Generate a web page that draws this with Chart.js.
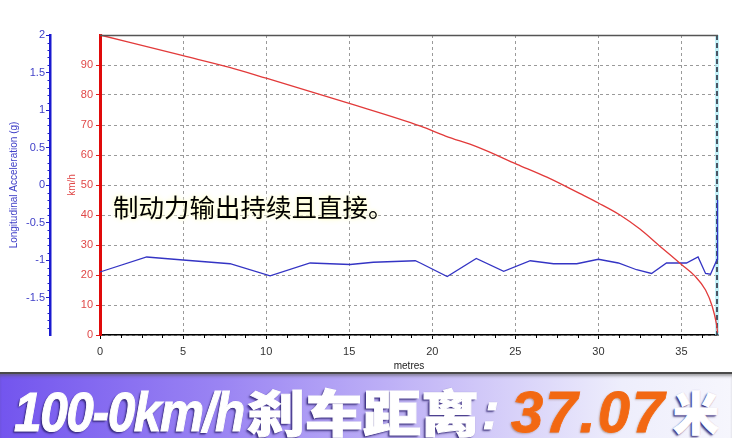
<!DOCTYPE html>
<html><head><meta charset="utf-8">
<script src="https://cdn.jsdelivr.net/npm/chart.js@4.4.1/dist/chart.umd.min.js"></script>
<style>
html,body{margin:0;padding:0;background:#fff;}
#wrap{position:relative;width:732px;height:438px;overflow:hidden;background:#fff;}
#chartBox{position:absolute;left:0;top:0;width:732px;height:376px;}
#note{position:absolute;left:113px;top:193px;font-family:"Noto Sans CJK SC";font-size:25.5px;line-height:1;color:#000;white-space:nowrap;
  text-shadow:0 0 3px #ffffc8,0 0 6px #ffffd0,0 0 10px #fffff0;}
#banner{position:absolute;left:0;top:372px;width:732px;height:66px;
  background:linear-gradient(to right,#7355ee 0%,#9a84f3 30%,#c8bdf7 60%,#eeeefc 85%,#f6f6fd 100%);
  border-top:2px solid #4a4a4a;box-shadow:inset 0 3px 3px -1px rgba(90,90,90,0.55);box-sizing:border-box;}
#banner span{position:absolute;white-space:nowrap;line-height:1;transform-origin:0 50%;}
.lat{font-family:"Liberation Sans",Arial,sans-serif;font-weight:bold;font-style:italic;}
.cjk{font-family:"Noto Sans CJK SC";font-weight:900;}
.w{color:#fff;-webkit-text-stroke:1px #fff;text-shadow:0 0 1px #3b2d85,-1px 1px 1px #3b2d85,-2px 2px 2px rgba(40,30,100,0.75);}
.o{color:#f26812;-webkit-text-stroke:0.8px #f26812;text-shadow:0 0 1px #fff,-1px 1px 2px rgba(120,60,20,0.5);}
</style>
</head><body>
<div id="wrap">
  <div id="chartBox"><canvas id="c" width="732" height="376"></canvas></div>
  <div id="note">制动力输出持续且直接。</div>
  <div id="banner">
    <span class="lat w" style="left:14px;top:11px;font-size:55px;letter-spacing:-1.5px;transform:scaleX(0.9)">100-0km/h</span>
    <span class="cjk w" style="left:247px;top:11px;font-size:50px;transform:scaleX(1.16)">刹车距离</span>
    <span class="lat w" style="left:482px;top:11px;font-size:52px">:</span>
    <span class="lat o" style="left:511px;top:9px;font-size:58px;letter-spacing:2px">37.07</span>
    <span class="cjk w" style="left:673px;top:13px;font-size:46px">米</span>
  </div>
</div>
<script>
// ---- data ----
const speedDistance = [0, 5, 7.8, 10, 15, 19.3, 20.8, 22.7, 25.1, 26.9, 28.9, 30, 31.3, 32.5, 33.7, 35.0, 35.8, 36.45, 36.85, 37.1, 37.18];
const speedKmh      = [100, 93.1, 89.2, 85.6, 77.2, 69.6, 66.3, 62.7, 56.9, 52.6, 47.1, 44.0, 40.0, 35.3, 29.6, 23.5, 19.7, 15.0, 9.6, 3.9, 0.8];
const accDistance = [0, 2.81, 5.0, 7.83, 10.24, 12.65, 15.06, 16.45, 18.98, 19.28, 20.9, 22.65, 24.3, 25.9, 27.3, 28.7, 30.0, 31.2, 32.3, 33.2, 34.1, 35.3, 36.0, 36.45, 36.75, 37.15, 37.17];
const accG        = [-1.16, -0.96, -1.0, -1.05, -1.21, -1.04, -1.06, -1.03, -1.01, -1.04, -1.22, -0.98, -1.15, -1.01, -1.05, -1.05, -0.99, -1.04, -1.13, -1.18, -1.04, -1.04, -0.96, -1.18, -1.19, -0.99, -0.2];
const xTicks     = [0, 5, 10, 15, 20, 25, 30, 35];
const speedTicks = [0, 10, 20, 30, 40, 50, 60, 70, 80, 90];
const accTicks   = [2, 1.5, 1, 0.5, 0, -0.5, -1, -1.5];
const xMax = 37.2;

const FONT = '"Liberation Sans", Arial, sans-serif';

const decorPlugin = {
  id: 'decor',
  beforeDatasetsDraw(chart) {
    const {ctx, chartArea: a} = chart;
    ctx.save();
    // right dashed marker line (under the data)
    ctx.strokeStyle = 'rgba(170,235,245,0.7)'; ctx.lineWidth = 4;
    ctx.beginPath(); ctx.moveTo(a.right - 1, a.top); ctx.lineTo(a.right - 1, a.bottom); ctx.stroke();
    ctx.strokeStyle = '#223'; ctx.lineWidth = 1.5; ctx.setLineDash([5, 3]);
    ctx.beginPath(); ctx.moveTo(a.right - 1, a.top); ctx.lineTo(a.right - 1, a.bottom); ctx.stroke();
    ctx.restore();
  },
  afterDraw(chart) {
    const {ctx, chartArea: a, scales} = chart;
    ctx.save();
    // top frame line
    ctx.strokeStyle = '#555'; ctx.lineWidth = 1.5; ctx.setLineDash([]);
    ctx.beginPath(); ctx.moveTo(a.left, a.top + 0.5); ctx.lineTo(a.right, a.top + 0.5); ctx.stroke();
    // minor ticks on x axis
    const sx = scales.x;
    ctx.strokeStyle = '#000'; ctx.lineWidth = 1;
    for (let v = 1.25; v < xMax; v += 1.25) {
      if (Math.abs(v / 5 - Math.round(v / 5)) < 1e-6) continue;
      const px = Math.round(sx.getPixelForValue(v)) + 0.5;
      ctx.beginPath(); ctx.moveTo(px, a.bottom); ctx.lineTo(px, a.bottom + 3); ctx.stroke();
    }
    // minor ticks on acceleration axis
    const sa = scales.yAcc;
    ctx.strokeStyle = '#2020c8';
    for (let i = -20; i <= 20; i++) {
      if (i % 5 === 0) continue;
      const py = Math.round(sa.getPixelForValue(i / 10)) + 0.5;
      ctx.beginPath(); ctx.moveTo(sa.right - 2.5, py); ctx.lineTo(sa.right, py); ctx.stroke();
    }
    ctx.restore();
  }
};

new Chart(document.getElementById('c'), {
  type: 'line',
  data: {
    datasets: [
      {
        label: 'km/h',
        data: speedDistance.map((x, i) => ({x, y: speedKmh[i]})),
        yAxisID: 'ySpeed',
        borderColor: '#e23a3a',
        borderWidth: 1.3,
        pointRadius: 0,
        cubicInterpolationMode: 'monotone',
        fill: false,
        clip: 4
      },
      {
        label: 'Longitudinal Acceleration (g)',
        data: accDistance.map((x, i) => ({x, y: accG[i]})),
        yAxisID: 'yAcc',
        borderColor: '#3434c4',
        borderWidth: 1.3,
        pointRadius: 0,
        tension: 0,
        fill: false,
        clip: 4
      }
    ]
  },
  options: {
    responsive: false,
    animation: false,
    devicePixelRatio: 1,
    layout: {padding: {top: 35, right: 14, left: 0, bottom: 0}},
    plugins: {legend: {display: false}, tooltip: {enabled: false}},
    scales: {
      x: {
        type: 'linear', min: 0, max: xMax,
        afterBuildTicks: s => { s.ticks = xTicks.map(v => ({value: v})); },
        afterFit: s => { s.height = 41; },
        ticks: {color: '#333', font: {family: FONT, size: 11}, padding: 6, callback: v => String(v)},
        grid: {color: '#9a9a9a', lineWidth: 1, tickLength: 4, tickColor: '#000', drawTicks: true},
        border: {color: '#000', width: 1.5, dash: [3, 3]},
        title: {display: true, text: 'metres', color: '#222', font: {family: FONT, size: 10}, padding: {top: 0, bottom: 4}}
      },
      ySpeed: {
        type: 'linear', position: 'left', weight: 0, min: 0, max: 100,
        afterBuildTicks: s => { s.ticks = speedTicks.map(v => ({value: v})); },
        afterFit: s => { s.width = 50; },
        ticks: {color: '#e04848', font: {family: FONT, size: 11}, padding: 3, callback: v => String(v)},
        grid: {color: '#9a9a9a', lineWidth: 1, tickLength: 4, tickColor: '#e02020'},
        border: {color: '#e00a0a', width: 3, dash: [3, 3]},
        title: {display: true, text: 'km/h', color: '#e04848', font: {family: FONT, size: 10}, padding: {top: 16, bottom: 0}}
      },
      yAcc: {
        type: 'linear', position: 'left', weight: 1, min: -2, max: 2,
        afterBuildTicks: s => { s.ticks = accTicks.map(v => ({value: v})); },
        afterFit: s => { s.width = 50; },
        ticks: {color: '#4040c8', font: {family: FONT, size: 11}, padding: 1, callback: v => String(v)},
        grid: {drawOnChartArea: false, tickLength: 4, tickColor: '#2020c8'},
        border: {color: '#1a1ad0', width: 2.5},
        title: {display: true, text: 'Longitudinal Acceleration (g)', color: '#4040c8', font: {family: FONT, size: 10}, padding: {top: 8, bottom: 0}}
      }
    }
  },
  plugins: [decorPlugin]
});
</script>
</body></html>
